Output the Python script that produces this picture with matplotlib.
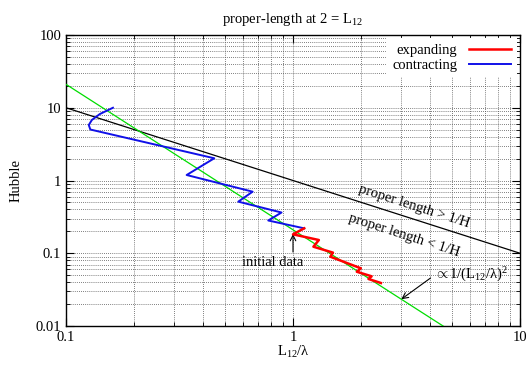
import numpy as np
import matplotlib
matplotlib.use("Agg")
import matplotlib.pyplot as plt
from matplotlib.ticker import LogLocator, NullFormatter, FixedLocator, FixedFormatter

plt.rcParams['font.family'] = ['Liberation Serif', 'DejaVu Serif']
plt.rcParams['mathtext.fontset'] = 'custom'
plt.rcParams['mathtext.rm'] = 'Liberation Serif'
plt.rcParams['mathtext.it'] = 'Liberation Serif:italic'

# contracting run (starts at the initial data point)
contract_x = [1.12, 0.778, 0.890, 0.574, 0.664, 0.340, 0.450, 0.128, 0.126, 0.130, 0.141, 0.161]
contract_y = [0.220, 0.282, 0.363, 0.512, 0.702, 1.19, 2.02, 5.02, 5.79, 6.79, 8.2, 10.0]

# expanding run
expand_x = [1.12, 1.00, 1.30, 1.23, 1.50, 1.46, 1.99, 1.91, 2.22, 2.15, 2.44]
expand_y = [0.220, 0.182, 0.152, 0.123, 0.102, 0.0897, 0.0621, 0.0557, 0.0482, 0.0443, 0.039]

# reference lines: proper length = 1/H and ~1/(L12/lambda)^2
ref_x = [0.1, 10.0]
hubble_coef = 1.0
slope2_coef = 0.21

xticks = [0.1, 1, 10]
xtick_labels = ["0.1", "1", "10"]
yticks = [0.01, 0.1, 1, 10, 100]
ytick_labels = ["0.01", "0.1", "1", "10", "100"]

FS = 10.5

fig = plt.figure(figsize=(5.31, 3.67), dpi=100)
ax = fig.add_axes([66 / 531, 1 - 326 / 367, 454 / 531, 291 / 367])
ax.set_xscale('log')
ax.set_yscale('log')
ax.set_xlim(0.1, 10)
ax.set_ylim(0.01, 100)

xs = np.array(ref_x)
ax.plot(xs, hubble_coef / xs, color='black', lw=0.9, zorder=3)
xs2 = np.logspace(-1, 1, 50)
ax.plot(xs2, slope2_coef / xs2 ** 2, color='#00dd00', lw=0.9, zorder=3)

l_con, = ax.plot(contract_x, contract_y, color='#1010e8', lw=1.4, zorder=4, label='contracting')
l_exp, = ax.plot(expand_x, expand_y, color='#ff0000', lw=1.8, zorder=5, label='expanding')

# grid on major + minor ticks, gnuplot style
ax.grid(True, which='both', linestyle=(0, (1, 1.5)), color='#555555', lw=0.6)
ax.set_axisbelow(True)

ax.xaxis.set_major_locator(FixedLocator(xticks))
ax.xaxis.set_major_formatter(FixedFormatter(xtick_labels))
ax.yaxis.set_major_locator(FixedLocator(yticks))
ax.yaxis.set_major_formatter(FixedFormatter(ytick_labels))
ax.xaxis.set_minor_locator(LogLocator(base=10, subs=np.arange(2, 10)))
ax.yaxis.set_minor_locator(LogLocator(base=10, subs=np.arange(2, 10)))
ax.xaxis.set_minor_formatter(NullFormatter())
ax.yaxis.set_minor_formatter(NullFormatter())
ax.tick_params(which='both', direction='in', top=True, right=True, labelsize=FS)
ax.tick_params(which='major', length=6, width=0.8)
ax.tick_params(which='minor', length=3, width=0.6)
for s in ax.spines.values():
    s.set_linewidth(1.0)

ax.set_title(r"proper-length at 2 = L$_{12}$", fontsize=FS, pad=9)
ax.set_xlabel(r"L$_{12}$/λ", fontsize=FS, labelpad=0)
ax.set_ylabel("Hubble", fontsize=FS, labelpad=9)

# angle of the 1/H line on screen
p1 = ax.transData.transform((1.0, 1.0))
p2 = ax.transData.transform((10.0, 0.1))
ang = np.degrees(np.arctan2(p2[1] - p1[1], p2[0] - p1[0]))

ax.text(3.41, 0.446, "proper length > 1/H", rotation=ang, ha='center', va='center',
        rotation_mode='anchor', fontsize=FS, zorder=6)
ax.text(3.08, 0.173, "proper length < 1/H", rotation=ang, ha='center', va='center',
        rotation_mode='anchor', fontsize=FS, zorder=6)

ax.text(0.817, 0.0758, "initial data", ha='center', va='center', fontsize=FS, zorder=6)
ax.annotate("", xy=(1.0, 0.184), xytext=(1.0, 0.104),
            arrowprops=dict(arrowstyle='->', color='black', lw=0.8, shrinkA=0, shrinkB=0))
ax.annotate(r"$\propto$1/(L$_{12}$/λ)$^2$", xy=(3.0, slope2_coef / 9.0), xytext=(4.2, 0.050),
            ha='left', va='center', fontsize=FS, zorder=6,
            arrowprops=dict(arrowstyle='->', color='black', lw=0.8,
                            shrinkA=1, shrinkB=0, relpos=(0.0, 0.5)))

leg = ax.legend(handles=[l_exp, l_con], loc='upper right', markerfirst=False, fontsize=FS,
                fancybox=False, framealpha=1, edgecolor='none', handlelength=2.9,
                borderpad=0.4, borderaxespad=0.2, labelspacing=0.1, handletextpad=0.8)
leg.set_zorder(10)

fig.savefig("out.png", dpi=100)
